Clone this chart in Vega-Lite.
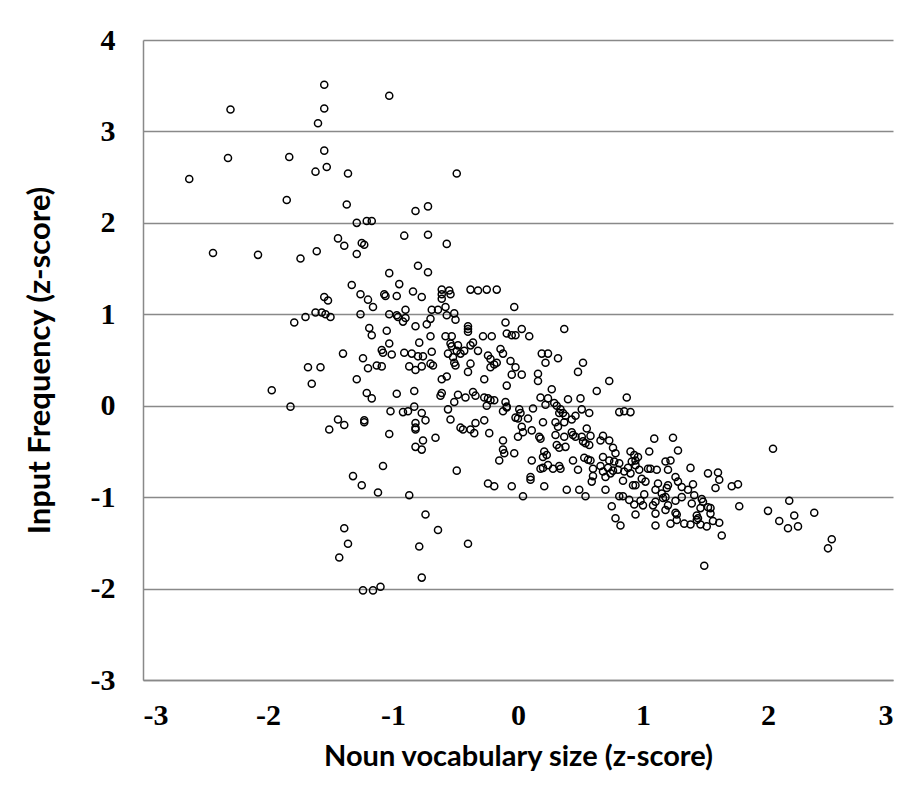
{
  "$schema": "https://vega.github.io/schema/vega-lite/v6.json",
  "width": 750,
  "height": 640,
  "autosize": "none",
  "padding": {"left": 143, "top": 40, "right": 26, "bottom": 129},
  "background": "white",
  "config": {"view": {"stroke": null}},
  "data": {"values": [
{"x":-1.55,"y":3.51},{"x":-1.03,"y":3.39},{"x":-2.30,"y":3.24},{"x":-1.55,"y":3.25},{"x":-1.60,"y":3.09},{"x":-1.55,"y":2.79},{"x":-2.32,"y":2.71},{"x":-1.83,"y":2.72},{"x":-2.63,"y":2.48},{"x":-1.62,"y":2.56},{"x":-1.53,"y":2.61},{"x":-1.36,"y":2.54},{"x":-1.85,"y":2.25},{"x":-1.37,"y":2.20},{"x":-1.29,"y":2.00},{"x":-1.21,"y":2.02},{"x":-1.17,"y":2.02},{"x":-2.44,"y":1.67},{"x":-2.08,"y":1.65},{"x":-1.74,"y":1.61},{"x":-1.61,"y":1.69},{"x":-1.44,"y":1.83},{"x":-1.39,"y":1.75},{"x":-1.29,"y":1.66},{"x":-1.25,"y":1.78},{"x":-1.23,"y":1.76},
{"x":-0.49,"y":2.54},{"x":-0.82,"y":2.13},{"x":-0.72,"y":2.18},{"x":-0.91,"y":1.86},{"x":-0.72,"y":1.87},{"x":-0.57,"y":1.77},
{"x":-1.03,"y":1.45},{"x":-1.33,"y":1.32},{"x":-1.26,"y":1.22},{"x":-1.20,"y":1.16},{"x":-1.16,"y":1.08},{"x":-1.07,"y":1.22},{"x":-1.06,"y":1.20},{"x":-1.55,"y":1.19},{"x":-1.52,"y":1.15},{"x":-1.62,"y":1.02},{"x":-1.57,"y":1.02},{"x":-1.54,"y":1.00},{"x":-1.50,"y":0.97},{"x":-1.70,"y":0.97},{"x":-1.79,"y":0.91},{"x":-1.26,"y":1.00},{"x":-1.03,"y":1.00},{"x":-1.19,"y":0.85},{"x":-1.17,"y":0.77},{"x":-1.05,"y":0.82},{"x":-1.03,"y":0.68},{"x":-1.09,"y":0.61},{"x":-1.08,"y":0.58},{"x":-1.01,"y":0.56},{"x":-1.40,"y":0.57},{"x":-1.24,"y":0.52},{"x":-1.20,"y":0.41},{"x":-1.13,"y":0.44},{"x":-1.09,"y":0.43},{"x":-1.68,"y":0.42},{"x":-1.58,"y":0.42},{"x":-1.65,"y":0.24},{"x":-1.29,"y":0.29},{"x":-1.97,"y":0.17},{"x":-1.21,"y":0.14},{"x":-1.17,"y":0.08},{"x":-1.82,"y":-0.01},{"x":-1.02,"y":-0.06},{"x":-1.44,"y":-0.15},{"x":-1.39,"y":-0.21},{"x":-1.51,"y":-0.26},{"x":-1.23,"y":-0.16},{"x":-1.23,"y":-0.18},{"x":-1.03,"y":-0.31},{"x":-1.08,"y":-0.66},
{"x":-1.32,"y":-0.77},{"x":-1.25,"y":-0.87},{"x":-1.12,"y":-0.95},{"x":-1.39,"y":-1.34},{"x":-1.36,"y":-1.51},{"x":-1.43,"y":-1.66},{"x":-1.24,"y":-2.02},{"x":-1.16,"y":-2.02},{"x":-1.10,"y":-1.98},
{"x":-0.80,"y":1.53},{"x":-0.72,"y":1.46},{"x":-0.95,"y":1.33},{"x":-0.84,"y":1.25},{"x":-0.77,"y":1.19},{"x":-0.97,"y":1.20},{"x":-0.61,"y":1.27},{"x":-0.61,"y":1.22},{"x":-0.55,"y":1.26},{"x":-0.54,"y":1.22},{"x":-0.61,"y":1.17},{"x":-0.38,"y":1.27},{"x":-0.32,"y":1.26},{"x":-0.25,"y":1.27},{"x":-0.17,"y":1.27},{"x":-0.03,"y":1.08},{"x":-0.90,"y":1.05},{"x":-0.97,"y":0.99},{"x":-0.96,"y":0.97},{"x":-0.90,"y":0.96},{"x":-0.92,"y":0.92},{"x":-0.69,"y":1.05},{"x":-0.64,"y":1.05},{"x":-0.58,"y":1.08},{"x":-0.57,"y":0.99},{"x":-0.51,"y":1.01},{"x":-0.50,"y":0.94},{"x":-0.70,"y":0.95},{"x":-0.73,"y":0.89},{"x":-0.82,"y":0.87},{"x":-0.40,"y":0.87},{"x":-0.40,"y":0.84},{"x":-0.40,"y":0.81},{"x":-0.10,"y":0.91},{"x":0.03,"y":0.84},{"x":0.37,"y":0.84},{"x":-0.09,"y":0.79},{"x":-0.05,"y":0.77},{"x":-0.02,"y":0.77},{"x":0.09,"y":0.76},{"x":-0.70,"y":0.76},{"x":-0.58,"y":0.76},{"x":-0.53,"y":0.76},{"x":-0.28,"y":0.76},{"x":-0.21,"y":0.76},{"x":-0.79,"y":0.69},{"x":-0.54,"y":0.68},{"x":-0.53,"y":0.65},{"x":-0.48,"y":0.66},{"x":-0.49,"y":0.60},{"x":-0.56,"y":0.57},{"x":-0.38,"y":0.66},{"x":-0.36,"y":0.69},{"x":-0.32,"y":0.60},{"x":-0.43,"y":0.60},{"x":-0.46,"y":0.57},{"x":-0.91,"y":0.58},{"x":-0.85,"y":0.57},{"x":-0.80,"y":0.54},{"x":-0.76,"y":0.54},{"x":-0.69,"y":0.59},{"x":-0.14,"y":0.62},{"x":-0.12,"y":0.57},{"x":-0.24,"y":0.55},{"x":-0.22,"y":0.51},{"x":-0.17,"y":0.47},{"x":-0.19,"y":0.45},{"x":-0.22,"y":0.42},{"x":-0.06,"y":0.49},{"x":-0.02,"y":0.42},{"x":0.19,"y":0.57},{"x":0.24,"y":0.57},{"x":0.32,"y":0.52},{"x":0.22,"y":0.47},{"x":0.52,"y":0.47},{"x":0.48,"y":0.37},{"x":0.16,"y":0.35},{"x":0.16,"y":0.27},{"x":0.03,"y":0.34},{"x":-0.05,"y":0.34},{"x":0.73,"y":0.27},{"x":0.63,"y":0.16},{"x":0.87,"y":0.09},{"x":-0.52,"y":0.53},{"x":-0.51,"y":0.47},{"x":-0.50,"y":0.44},{"x":-0.38,"y":0.46},{"x":-0.40,"y":0.37},{"x":-0.27,"y":0.29},{"x":-0.09,"y":0.22},{"x":0.27,"y":0.18},{"x":-0.87,"y":0.43},{"x":-0.82,"y":0.39},{"x":-0.77,"y":0.43},{"x":-0.70,"y":0.46},{"x":-0.68,"y":0.44},{"x":-0.61,"y":0.29},{"x":-0.57,"y":0.32},{"x":-0.62,"y":0.11},{"x":-0.61,"y":0.14},{"x":-0.83,"y":0.16},{"x":-0.97,"y":0.13},{"x":-0.48,"y":0.12},{"x":-0.42,"y":0.09},{"x":-0.36,"y":0.15},{"x":-0.34,"y":0.11},{"x":-0.27,"y":0.09},{"x":-0.24,"y":0.08},{"x":-0.22,"y":0.06},{"x":-0.19,"y":0.06},{"x":-0.51,"y":0.04},{"x":-0.56,"y":-0.04},{"x":-0.25,"y":0.00},{"x":-0.10,"y":0.04},{"x":-0.09,"y":-0.01},{"x":-0.09,"y":-0.02},{"x":0.01,"y":-0.04},{"x":0.02,"y":-0.08},{"x":0.12,"y":-0.03},{"x":0.18,"y":0.09},{"x":0.24,"y":0.08},{"x":0.22,"y":0.01},{"x":0.29,"y":0.03},{"x":0.31,"y":0.00},{"x":0.34,"y":-0.04},{"x":0.33,"y":-0.08},{"x":0.36,"y":-0.08},{"x":0.38,"y":-0.11},{"x":0.40,"y":0.07},{"x":0.50,"y":0.08},{"x":0.51,"y":-0.04},{"x":0.57,"y":-0.08},{"x":0.46,"y":-0.11},{"x":0.43,"y":-0.15},{"x":0.81,"y":-0.07},{"x":0.85,"y":-0.06},{"x":0.90,"y":-0.07},{"x":-0.92,"y":-0.07},{"x":-0.88,"y":-0.06},{"x":-0.83,"y":-0.01},{"x":-0.77,"y":-0.08},{"x":-0.74,"y":-0.16},{"x":-0.82,"y":-0.19},{"x":-0.82,"y":-0.24},{"x":-0.82,"y":-0.26},{"x":-0.54,"y":-0.15},{"x":-0.46,"y":-0.24},{"x":-0.44,"y":-0.26},{"x":-0.38,"y":-0.26},{"x":-0.35,"y":-0.30},{"x":-0.34,"y":-0.19},{"x":-0.27,"y":-0.16},{"x":-0.23,"y":-0.30},{"x":-0.12,"y":-0.06},{"x":-0.02,"y":-0.13},{"x":0.00,"y":-0.14},{"x":0.08,"y":-0.14},{"x":0.03,"y":-0.23},{"x":0.04,"y":-0.29},{"x":0.00,"y":-0.34},{"x":0.11,"y":-0.27},{"x":0.17,"y":-0.34},{"x":0.18,"y":-0.36},{"x":0.20,"y":-0.18},{"x":0.30,"y":-0.18},{"x":0.32,"y":-0.23},{"x":0.37,"y":-0.18},{"x":0.30,"y":-0.32},{"x":0.37,"y":-0.34},{"x":0.43,"y":-0.29},{"x":0.44,"y":-0.32},{"x":0.46,"y":-0.34},{"x":0.51,"y":-0.34},{"x":0.55,"y":-0.25},{"x":0.58,"y":-0.33},{"x":0.52,"y":-0.39},{"x":0.54,"y":-0.41},{"x":0.57,"y":-0.43},{"x":0.68,"y":-0.33},{"x":0.66,"y":-0.38},{"x":0.73,"y":-0.38},{"x":0.76,"y":-0.46},{"x":0.78,"y":-0.52},{"x":0.90,"y":-0.50},{"x":0.93,"y":-0.54},{"x":0.96,"y":-0.56},{"x":0.31,"y":-0.43},{"x":0.33,"y":-0.46},{"x":0.38,"y":-0.45},{"x":0.21,"y":-0.50},{"x":0.23,"y":-0.54},{"x":-0.12,"y":-0.38},{"x":-0.12,"y":-0.48},{"x":-0.11,"y":-0.52},{"x":-0.15,"y":-0.60},{"x":-0.03,"y":-0.52},{"x":0.11,"y":-0.60},{"x":0.20,"y":-0.56},{"x":0.44,"y":-0.60},{"x":0.53,"y":-0.57},{"x":0.56,"y":-0.59},{"x":0.58,"y":-0.60},{"x":0.68,"y":-0.56},{"x":0.73,"y":-0.60},{"x":0.77,"y":-0.61},{"x":0.81,"y":-0.63},{"x":0.91,"y":-0.61},{"x":0.94,"y":-0.60},{"x":-0.49,"y":-0.71},{"x":-0.76,"y":-0.38},{"x":-0.82,"y":-0.45},{"x":-0.77,"y":-0.48},{"x":-0.66,"y":-0.35},{"x":0.20,"y":-0.68},{"x":0.24,"y":-0.65},{"x":0.28,"y":-0.69},{"x":0.33,"y":-0.66},{"x":0.34,"y":-0.69},{"x":0.48,"y":-0.70},{"x":0.18,"y":-0.69},{"x":0.60,"y":-0.69},{"x":0.66,"y":-0.66},{"x":0.68,"y":-0.72},{"x":0.72,"y":-0.68},{"x":0.76,"y":-0.71},{"x":0.80,"y":-0.70},{"x":0.85,"y":-0.72},{"x":0.88,"y":-0.68},{"x":0.10,"y":-0.78},
{"x":2.04,"y":-0.47},{"x":1.09,"y":-0.36},{"x":1.24,"y":-0.35},{"x":1.28,"y":-0.49},{"x":1.05,"y":-0.50},{"x":0.94,"y":-0.65},{"x":1.18,"y":-0.61},{"x":1.22,"y":-0.60},{"x":1.38,"y":-0.68},{"x":1.52,"y":-0.74},{"x":1.60,"y":-0.73},{"x":0.97,"y":-0.70},{"x":1.04,"y":-0.69},{"x":1.06,"y":-0.69},{"x":1.11,"y":-0.70},{"x":1.20,"y":-0.70},{"x":0.90,"y":-0.74},
{"x":1.61,"y":-0.81},{"x":1.58,"y":-0.90},{"x":1.71,"y":-0.88},{"x":1.76,"y":-0.86},{"x":1.40,"y":-0.86},{"x":1.36,"y":-0.92},{"x":1.41,"y":-0.98},{"x":1.47,"y":-1.02},{"x":1.48,"y":-1.05},{"x":1.39,"y":-1.07},{"x":1.52,"y":-1.11},{"x":1.54,"y":-1.12},{"x":1.46,"y":-1.12},{"x":1.43,"y":-1.20},{"x":1.44,"y":-1.23},{"x":1.43,"y":-1.25},{"x":1.54,"y":-1.18},{"x":1.56,"y":-1.26},{"x":1.61,"y":-1.28},{"x":1.51,"y":-1.32},{"x":1.46,"y":-1.30},{"x":1.38,"y":-1.30},{"x":1.33,"y":-1.29},{"x":1.27,"y":-1.25},{"x":1.22,"y":-1.29},{"x":1.10,"y":-1.31},{"x":1.10,"y":-1.18},{"x":0.94,"y":-1.19},{"x":1.18,"y":-1.14},{"x":1.26,"y":-1.17},{"x":1.27,"y":-1.19},{"x":1.20,"y":-1.09},{"x":1.16,"y":-1.01},{"x":1.10,"y":-1.05},{"x":1.00,"y":-1.09},{"x":0.98,"y":-1.04},{"x":1.08,"y":-1.09},{"x":1.01,"y":-0.97},{"x":0.94,"y":-0.87},{"x":1.02,"y":-0.83},{"x":0.99,"y":-0.80},{"x":1.12,"y":-0.85},{"x":1.10,"y":-0.92},{"x":1.20,"y":-0.87},{"x":1.19,"y":-0.90},{"x":1.26,"y":-0.78},{"x":1.28,"y":-0.83},{"x":1.31,"y":-0.89},{"x":1.31,"y":-1.00},{"x":1.15,"y":-0.96},{"x":1.18,"y":-1.00},{"x":1.26,"y":-1.04},{"x":1.77,"y":-1.10},{"x":2.00,"y":-1.15},{"x":2.17,"y":-1.04},{"x":2.21,"y":-1.20},{"x":2.09,"y":-1.26},{"x":2.16,"y":-1.34},{"x":2.24,"y":-1.32},{"x":2.37,"y":-1.17},{"x":2.51,"y":-1.46},{"x":2.48,"y":-1.56},{"x":1.49,"y":-1.75},{"x":1.63,"y":-1.42},
{"x":-0.87,"y":-0.98},{"x":-0.74,"y":-1.19},{"x":-0.64,"y":-1.36},{"x":-0.79,"y":-1.54},{"x":-0.40,"y":-1.51},{"x":-0.77,"y":-1.88},{"x":-0.24,"y":-0.85},{"x":-0.19,"y":-0.88},{"x":-0.05,"y":-0.88},{"x":0.04,"y":-0.99},{"x":0.10,"y":-0.81},{"x":0.21,"y":-0.88},{"x":0.39,"y":-0.92},{"x":0.49,"y":-0.92},{"x":0.54,"y":-0.99},{"x":0.59,"y":-0.83},{"x":0.60,"y":-0.77},{"x":0.70,"y":-0.92},{"x":0.70,"y":-0.78},{"x":0.74,"y":-0.74},{"x":0.84,"y":-0.82},{"x":0.92,"y":-0.87},{"x":0.81,"y":-0.99},{"x":0.84,"y":-0.99},{"x":0.89,"y":-1.03},{"x":0.93,"y":-1.08},{"x":0.75,"y":-1.10},{"x":0.78,"y":-1.23},{"x":0.82,"y":-1.31}
  ]},
  "mark": {"type": "point", "shape": "circle", "filled": false, "stroke": "black", "strokeWidth": 1.5, "size": 50, "opacity": 1},
  "encoding": {
    "x": {
      "field": "x", "type": "quantitative",
      "scale": {"domain": [-3, 3], "nice": false, "zero": false},
      "axis": {
        "values": [-3, -2, -1, 0, 1, 2, 3],
        "labelExpr": "'' + datum.value",
        "title": "Noun vocabulary size (z-score)",
        "grid": false, "ticks": false,
        "domainColor": "#898989", "domainWidth": 1.5,
        "labelFont": "Liberation Serif", "labelFontWeight": "bold", "labelFontSize": 30, "labelColor": "black",
        "labelPadding": 20,
        "titleFont": "Lato", "titleFontWeight": "bold", "titleFontSize": 29, "titleColor": "black",
        "titlePadding": 12
      }
    },
    "y": {
      "field": "y", "type": "quantitative",
      "scale": {"domain": [-3, 4], "nice": false, "zero": false},
      "axis": {
        "values": [-3, -2, -1, 0, 1, 2, 3, 4],
        "labelExpr": "'' + datum.value",
        "title": "Input Frequency (z-score)",
        "grid": true, "gridColor": "#898989", "gridWidth": 1.5,
        "ticks": false,
        "domainColor": "#898989", "domainWidth": 1.5,
        "labelFont": "Liberation Serif", "labelFontWeight": "bold", "labelFontSize": 30, "labelColor": "black",
        "labelPadding": 28,
        "titleFont": "Lato", "titleFontWeight": "bold", "titleFontSize": 31, "titleColor": "black",
        "titlePadding": 34
      }
    }
  }
}
